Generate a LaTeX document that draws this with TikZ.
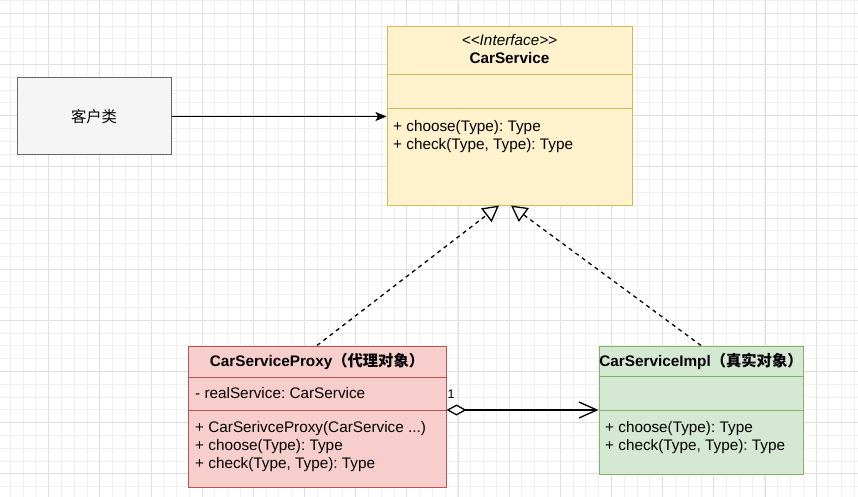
\documentclass[tikz,border=0pt]{standalone}
\usepackage{fontspec}
\setmainfont{Liberation Sans}
\newfontfamily\cjk{Noto Sans CJK SC}
\usepackage{tikz}
\usetikzlibrary{arrows.meta,calc}

\definecolor{gridmaj}{HTML}{E0E0E0}
\definecolor{gridmin}{HTML}{F0F0F0}
\definecolor{cliFill}{HTML}{F5F5F5}
\definecolor{cliLine}{HTML}{666666}
\definecolor{srvFill}{HTML}{FFF2CC}
\definecolor{srvLine}{HTML}{D6B656}
\definecolor{prxFill}{HTML}{F8CECC}
\definecolor{prxLine}{HTML}{B85450}
\definecolor{implFill}{HTML}{D5E8D4}
\definecolor{implLine}{HTML}{82B366}

\begin{document}
\frenchspacing
\begin{tikzpicture}[x=1pt, y=-1pt, font=\fontsize{15.3}{18}\selectfont,
		box/.style={draw, line width=1pt, inner sep=0pt},
		member/.style={anchor=west, align=left, inner sep=0pt},
		title/.style={align=center, inner sep=0pt, font=\fontsize{15.3}{18}\selectfont\bfseries},
		assoc/.style={line width=1.3pt, -{Stealth[length=11pt, width=9pt, inset=2.5pt]}},
		realize/.style={line width=1.3pt, dash pattern=on 4pt off 4pt, -{Triangle[open, length=16pt, width=17pt, fill=white]}},
		aggr/.style={line width=1.3pt, {Diamond[open, length=20pt, width=11pt, fill=white]}-{Straight Barb[length=18pt, width=16pt]}}]
		% page and grid
		\fill[white] (0,0) rectangle (858,497);
		\useasboundingbox (0,0) rectangle (858,497);
		\foreach \i in {0,...,66} {
			\draw[gridmin, line width=0.8pt] ({10.23+12.79*\i},0) -- ({10.23+12.79*\i},497);
		}
		\foreach \i in {0,...,38} {
			\draw[gridmin, line width=0.8pt] (0,{0.51+12.79*\i}) -- (858,{0.51+12.79*\i});
		}
		\foreach \i in {0,...,15} {
			\draw[gridmaj, line width=0.8pt] ({48.6+51.17*\i},0) -- ({48.6+51.17*\i},497);
		}
		\foreach \i in {0,...,9} {
			\draw[gridmaj, line width=0.8pt] (0,{13.3+51.17*\i}) -- (858,{13.3+51.17*\i});
		}
		% client
		\node[box, draw=cliLine, fill=cliFill, minimum width=154pt, minimum height=77pt] (cli) at (94,116.5) {\cjk 客户类};
		% interface CarService
		\node[box, draw=srvLine, fill=srvFill, minimum width=245pt, minimum height=178pt] (srv) at (509.5,116) {};
		\draw[srvLine, line width=1pt] ($(srv.north west)+(0,48)$) -- ($(srv.north east)+(0,48)$);
		\draw[srvLine, line width=1pt] ($(srv.north west)+(0,82)$) -- ($(srv.north east)+(0,82)$);
		\node[align=center, inner sep=0pt] (srvname) at (509.5,49.5) {\itshape <\kern0pt<Interface>\kern0pt>\\\bfseries CarService};
		\node[member] (srvops) at (393,136.5) {+ choose(Type): Type\\+ check(Type, Type): Type};
		% proxy
		\node[box, draw=prxLine, fill=prxFill, minimum width=258pt, minimum height=141pt] (prx) at (317,416.5) {};
		\draw[prxLine, line width=1pt] ($(prx.north west)+(0,32)$) -- ($(prx.north east)+(0,32)$);
		\draw[prxLine, line width=1pt] ($(prx.north west)+(0,65)$) -- ($(prx.north east)+(0,65)$);
		\node[title] (prxname) at (317,361) {CarServiceProxy{\cjk\bfseries （代理对象）}};
		\node[member] (prxattr) at (195,393) {- realService: CarService};
		\node[member] (prxops) at (195,447) {+ CarSerivceProxy(CarService ...)\\+ choose(Type): Type\\+ check(Type, Type): Type};
		% real object
		\node[box, draw=implLine, fill=implFill, minimum width=204pt, minimum height=128pt] (impl) at (701,410) {};
		\draw[implLine, line width=1pt] ($(impl.north west)+(0,31)$) -- ($(impl.north east)+(0,31)$);
		\draw[implLine, line width=1pt] ($(impl.north west)+(0,65)$) -- ($(impl.north east)+(0,65)$);
		\node[title] (implname) at (701,361) {CarServiceImpl{\cjk\bfseries （真实对象）}};
		\node[member] (implops) at (605,438) {+ choose(Type): Type\\+ check(Type, Type): Type};
		% connectors
		\draw[assoc] (cli.east) -- (cli.east -| srv.west);
		\coordinate (srvL) at ($(srv.south)+(-10.5,0)$);
		\coordinate (srvR) at ($(srv.south)+(1.5,0)$);
		\draw[realize] (prx.north) -- (srvL);
		\draw[realize] (impl.north) -- (srvR);
		\draw[aggr] (prx.east |- impl.west) -- (impl.west);
		\node[inner sep=0pt, font=\fontsize{12.5}{14}\selectfont] (mult) at (451,394) {1};
\end{tikzpicture}
\end{document}
